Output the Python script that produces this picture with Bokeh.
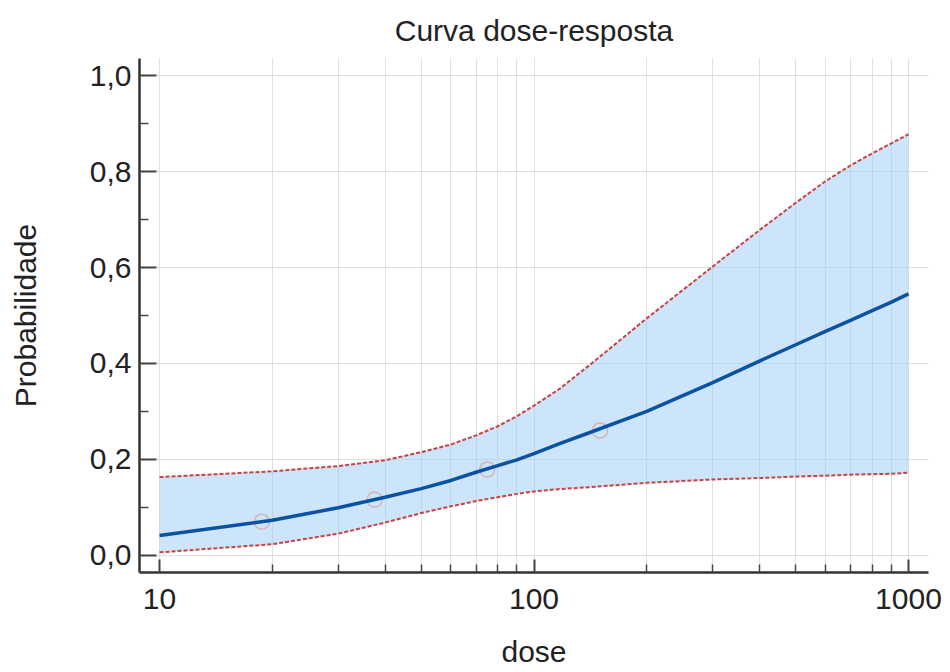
from bokeh.plotting import figure
from bokeh.models import FixedTicker, CustomJSTickFormatter, Range1d
from bokeh.embed import file_html
from bokeh.resources import INLINE

# ---- data ----
dose = [10, 20, 30, 40, 50, 60, 70, 80, 90, 100, 117, 141, 200, 300, 400, 500, 600, 700, 800, 900, 1000]
prob_fit = [0.041, 0.073, 0.099, 0.121, 0.139, 0.156, 0.173, 0.187, 0.199, 0.212, 0.233, 0.256, 0.300,
            0.360, 0.405, 0.439, 0.467, 0.490, 0.510, 0.528, 0.545]
ci_upper = [0.163, 0.175, 0.186, 0.198, 0.215, 0.231, 0.250, 0.269, 0.290, 0.312, 0.347, 0.397, 0.494,
            0.602, 0.678, 0.735, 0.780, 0.813, 0.838, 0.859, 0.878]
ci_lower = [0.006, 0.023, 0.045, 0.068, 0.088, 0.102, 0.113, 0.121, 0.128, 0.133, 0.138, 0.142, 0.151,
            0.158, 0.161, 0.164, 0.166, 0.168, 0.169, 0.170, 0.172]
obs_dose = [18.75, 37.5, 75, 150]
obs_prob = [0.070, 0.116, 0.179, 0.260]

x_major = [10, 100, 1000]
x_minor = [20, 30, 40, 50, 60, 70, 80, 90, 200, 300, 400, 500, 600, 700, 800, 900]
y_major = [0.0, 0.2, 0.4, 0.6, 0.8, 1.0]
y_minor = [0.1, 0.3, 0.5, 0.7, 0.9]

FONT = "Liberation Sans"

p = figure(width=945, height=670, x_axis_type="log",
           x_range=Range1d(8.84, 1131), y_range=Range1d(-0.036, 1.036),
           output_backend="svg", toolbar_location=None,
           min_border_left=139, min_border_top=57, min_border_bottom=95, min_border_right=17,
           title="Curva dose-resposta", x_axis_label="dose", y_axis_label="Probabilidade")
p.outline_line_color = None
p.background_fill_color = "white"
p.border_fill_color = "white"

p.title.align = "center"
p.title.text_font = FONT
p.title.text_font_size = "30px"
p.title.text_font_style = "normal"
p.title.text_color = "#222222"
p.title.standoff = 23

xt = FixedTicker(ticks=x_major, minor_ticks=x_minor)
yt = FixedTicker(ticks=y_major, minor_ticks=y_minor)
p.xaxis.ticker = xt
p.yaxis.ticker = yt
p.xgrid.ticker = xt
p.ygrid.ticker = yt
p.xaxis.formatter = CustomJSTickFormatter(code="return String(Math.round(tick));")
p.yaxis.formatter = CustomJSTickFormatter(code="return tick.toFixed(1).replace('.', ',');")

for ax in (p.xaxis[0], p.yaxis[0]):
    ax.axis_line_color = "#333333"
    ax.axis_line_width = 2.5
    ax.major_tick_line_color = "#444444"
    ax.major_tick_line_width = 2
    ax.minor_tick_line_color = "#444444"
    ax.minor_tick_line_width = 1.5
    ax.major_tick_out = 0
    ax.minor_tick_out = 0
    ax.major_label_text_font = FONT
    ax.major_label_text_font_size = "30px"
    ax.major_label_text_color = "#222222"
    ax.axis_label_text_font = FONT
    ax.axis_label_text_font_size = "30px"
    ax.axis_label_text_font_style = "normal"
    ax.axis_label_text_color = "#222222"

p.xaxis.major_tick_in = 13
p.xaxis.minor_tick_in = 8
p.yaxis.major_tick_in = 17
p.yaxis.minor_tick_in = 9
p.yaxis.major_label_standoff = 8
p.yaxis.axis_label_standoff = 45
p.xaxis.major_label_standoff = 16
p.xaxis.axis_label_standoff = 23

p.xgrid.grid_line_color = "#e0e0e0"
p.xgrid.minor_grid_line_color = "#e0e0e0"
p.ygrid.grid_line_color = "#e0e0e0"
p.xgrid.grid_line_width = 1
p.ygrid.grid_line_width = 1

# confidence band
p.varea(x=dose, y1=ci_lower, y2=ci_upper, fill_color="#99ccf5", fill_alpha=0.5)
p.line(dose, ci_upper, line_color="#cc4040", line_width=2, line_dash="4 2")
p.line(dose, ci_lower, line_color="#cc4040", line_width=2, line_dash="4 2")

# observed points
p.scatter(obs_dose, obs_prob, marker="circle", size=15, fill_color=None,
          line_color="#d6b4b4", line_width=1.5)

# fitted curve
p.line(dose, prob_fit, line_color="#0b52a3", line_width=3.5)

open("out.html", "w").write(file_html(p, INLINE))
